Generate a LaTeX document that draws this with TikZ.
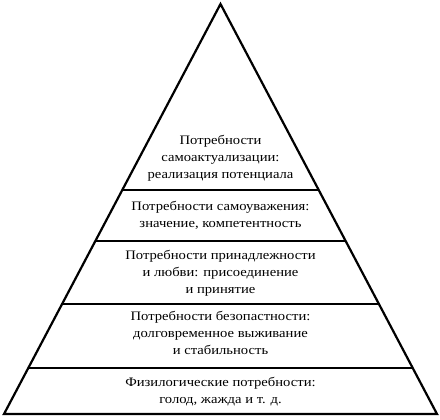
\documentclass[tikz,border=0pt]{standalone}
\usepackage{fontspec}
\setmainfont{Liberation Serif}[FakeStretch=1.13]
\usetikzlibrary{calc}
\begin{document}
\begin{tikzpicture}[x=1bp,y=-1bp]
            \tikzset{Level/.style={%
                    align=center,%
                    font=\fontsize{13}{16.8}\selectfont,%
                    inner sep=0pt,%
                },
                Edge/.style={%
                    line width=2.2bp,%
                    line join=miter,%
                }}

                \useasboundingbox (0,0) rectangle (440,419);

                \coordinate (top) at (220.5,4);
                \coordinate (bl) at (4,414);
                \coordinate (br) at (437,414);

                \draw[Edge] (top) -- (bl) -- (br) -- cycle;
                \foreach \t in {0.4537,0.5780,0.7317,0.8878}
                    \draw[Edge] ($(top)!\t!(bl)$) -- ($(top)!\t!(br)$);

                \node[Level] (self) at (220.5,158) {Потребности\\самоактуализации:\\реализация потенциала};
                \node[Level] (esteem) at (220.5,215) {Потребности самоуважения:\\значение, компетентность};
                \node[Level] (love) at (220.5,273) {Потребности принадлежности\\и любви: присоединение\\и принятие};
                \node[Level] (safety) at (220.5,333) {Потребности безопастности:\\долговременное выживание\\и стабильность};
                \node[Level] (body) at (220.5,391.5) {Физилогические потребности:\\голод, жажда и т. д.};
        \end{tikzpicture}
\end{document}
